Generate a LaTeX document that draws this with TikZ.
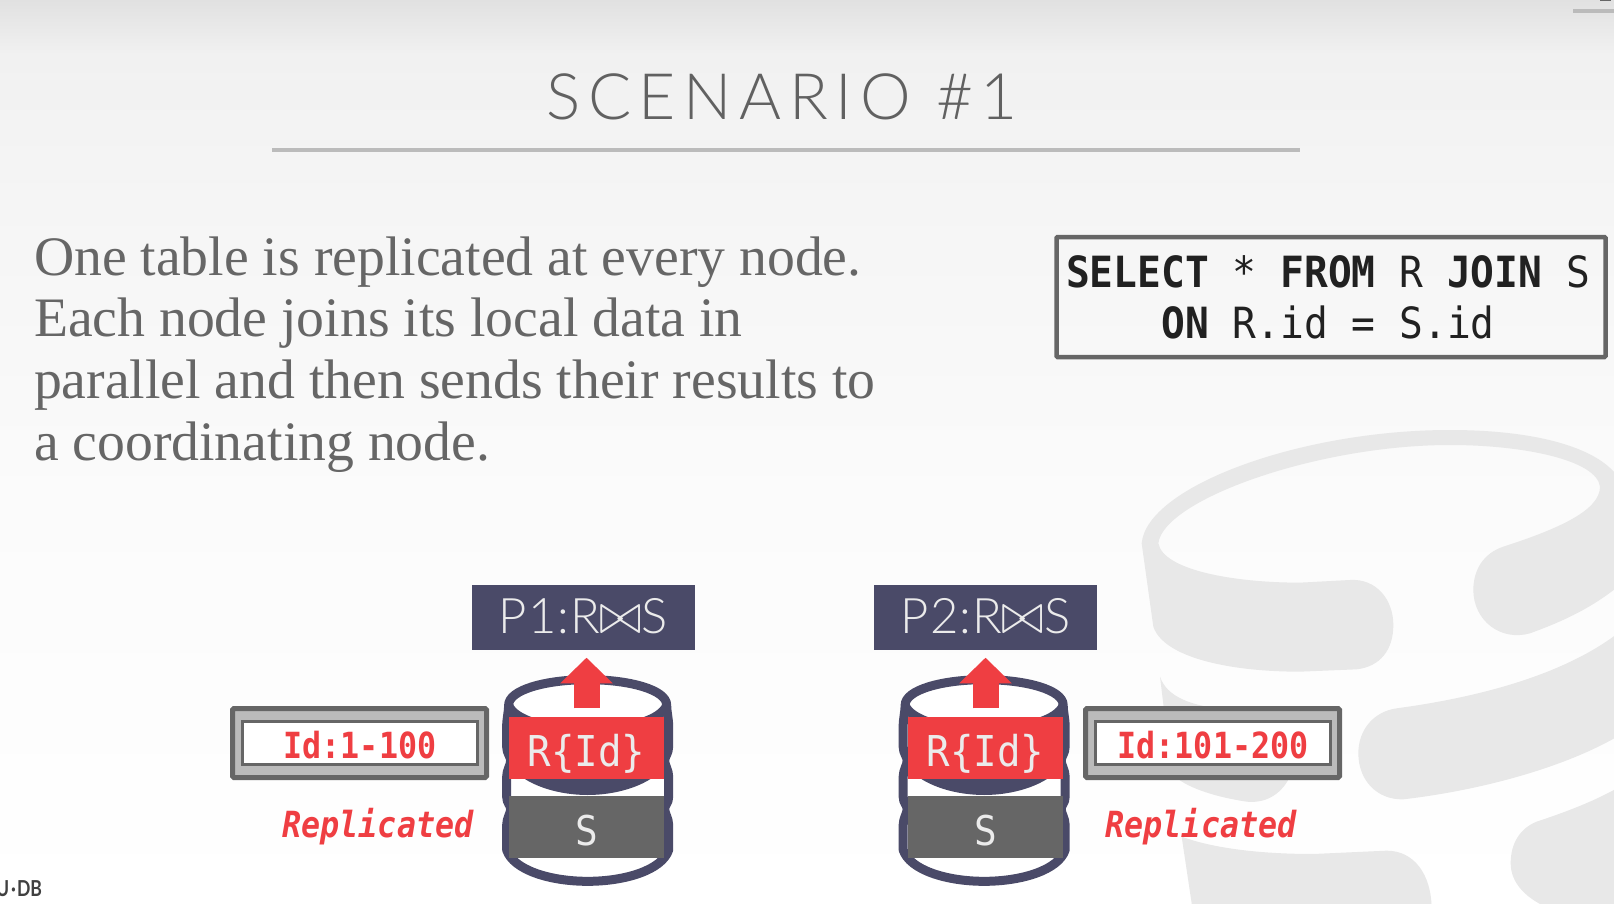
\documentclass[tikz,border=0pt]{standalone}
\usepackage{fontspec}
\usepackage{graphicx}
\usetikzlibrary{arrows.meta}
\setmainfont{Liberation Serif}
\newfontfamily\monof[FakeStretch=.88]{DejaVu Sans Mono}
\newfontfamily\monoq[FakeStretch=.92]{DejaVu Sans Mono}
\newfontfamily\lightf{Lato Light}
\newfontfamily\footf[FakeStretch=.8]{Lato}
\definecolor{navyc}{HTML}{4A4A68}
\definecolor{redc}{HTML}{EF3E42}
\definecolor{grayc}{HTML}{666666}
\definecolor{lightc}{HTML}{BBBBBB}
\definecolor{wmc}{HTML}{E8E8E8}
\definecolor{bga}{HTML}{FFFFFF}
\definecolor{bgb}{HTML}{FBFBFB}
\definecolor{bgc}{HTML}{F5F5F5}
\definecolor{bgd}{HTML}{F1F1F1}
\definecolor{bge}{HTML}{E1E1E1}
\pgfdeclareverticalshading{bgsh}{100bp}{color(0bp)=(bga); color(25bp)=(bga); color(47.3bp)=(bgb); color(63.9bp)=(bgc); color(72bp)=(bgd); color(75bp)=(bge); color(100bp)=(bge)}
\newcommand{\sized}[1]{\fontsize{#1}{#1}\selectfont}
\newcommand{\thinjoin}{\resizebox{42pt}{27pt}{$\bowtie$}}
\tikzset{
  flat/.style={inner sep=0pt,outer sep=0pt},
  procbox/.style={flat,fill=navyc,text=black!8,minimum width=223pt,text height=48pt,text depth=17pt,font=\lightf\sized{49}\addfontfeatures{LetterSpace=2}},
  redbox/.style={flat,fill=redc,text=black!8,minimum width=155pt,text height=49pt,text depth=13pt,font=\monoq\sized{42.5}},
  graybox/.style={flat,fill=grayc,text=black!8,minimum width=155pt,text height=49pt,text depth=13pt,font=\monoq\sized{41}},
  idouter/.style={flat,draw=grayc,fill=lightc,line width=5pt,rounded corners=1.5pt,minimum width=254pt,minimum height=69pt},
  idinner/.style={flat,draw=grayc,fill=white,line width=3pt,minimum width=235pt,text height=36.5pt,text depth=6.5pt,text=redc,font=\monof\bfseries\sized{36}},
  replabel/.style={flat,anchor=base,text=redc,font=\monof\bfseries\itshape\sized{36}},
  flowarrow/.style={draw=redc,line width=26pt,shorten <=8.7pt,shorten >=7.7pt,-{Triangle[length=25.6pt,width=51pt,fill=redc]}},
  wm/.style={fill=wmc,draw=none}
}
\newcommand{\dbstack}[1]{%
  \begin{scope}[shift={(#1,570)},scale=1/3]
    \path[fill=white,draw=navyc,line width=9pt,line join=round]
      (866,405) .. controls (866,425) and (860,445) .. (860,470) -- (860,530)
      .. controls (860,550) and (872,560) .. (872,572) .. controls (872,585) and (860,600) .. (860,620) -- (860,680)
      .. controls (860,700) and (872,705) .. (872,717) .. controls (872,730) and (860,745) .. (860,765) -- (860,840)
      .. controls (880,900) and (990,934) .. (1103,934) .. controls (1216,934) and (1326,900) .. (1346,840)
      -- (1346,765) .. controls (1346,745) and (1334,730) .. (1334,717) .. controls (1334,705) and (1346,700) .. (1346,680)
      -- (1346,620) .. controls (1346,600) and (1334,585) .. (1334,572) .. controls (1334,560) and (1346,550) .. (1346,530)
      -- (1346,470) .. controls (1346,445) and (1340,425) .. (1340,405)
      .. controls (1340,360) and (1230,329) .. (1103,329) .. controls (976,329) and (866,360) .. (866,405) -- cycle;
    \fill[navyc] (880,600) .. controls (930,650) and (1020,675) .. (1103,675) .. controls (1186,675) and (1276,650) .. (1326,600) -- cycle;
    \draw[navyc,line width=9pt] (866,405) .. controls (880,450) and (990,481) .. (1103,481) .. controls (1216,481) and (1326,450) .. (1340,405);
  \end{scope}}
\begin{document}
\begin{tikzpicture}[x=1pt,y=-1pt]
\useasboundingbox (0,0) rectangle (1614,904);
\clip (0,0) rectangle (1614,904);
\shade[shading=bgsh] (0,0) rectangle (1614,904);
% watermark
\begin{scope}[shift={(1100,400)},scale=1/3]
  \fill[wm] (125,430) .. controls (140,260) and (600,90) .. (1050,90) .. controls (1300,90) and (1500,140) .. (1560,240)
     -- (1560,555) .. controls (1480,620) and (1400,660) .. (1290,700) .. controls (1200,725) and (1120,660) .. (1120,570)
     .. controls (1120,510) and (1150,460) .. (1210,440) .. controls (1380,385) and (1500,330) .. (1500,260)
     .. controls (1490,180) and (1270,135) .. (1050,135) .. controls (650,135) and (190,300) .. (175,430)
     .. controls (190,510) and (400,548) .. (600,548) -- (750,540) .. controls (830,535) and (880,600) .. (880,675)
     .. controls (880,750) and (840,800) .. (770,808) -- (600,815) .. controls (380,815) and (190,770) .. (160,680) -- cycle;
  \fill[wm] (180,830) .. controls (200,890) and (270,910) .. (320,920) -- (600,1000) -- (570,1130)
     .. controls (540,1190) and (490,1210) .. (440,1205) .. controls (340,1190) and (250,1160) .. (215,1120) -- cycle;
  \fill[wm] (890,925) .. controls (1150,890) and (1400,820) .. (1560,695) -- (1560,1005)
     .. controls (1400,1100) and (1150,1170) .. (910,1198) .. controls (830,1200) and (775,1140) .. (775,1060)
     .. controls (775,990) and (820,935) .. (890,925) -- cycle;
  \fill[wm] (1310,1265) .. controls (1400,1235) and (1480,1205) .. (1560,1160) -- (1560,1530) -- (1360,1530)
     .. controls (1280,1500) and (1232,1450) .. (1232,1390) .. controls (1232,1330) and (1260,1285) .. (1310,1265) -- cycle;
  \fill[wm] (245,1310) .. controls (340,1345) and (480,1362) .. (640,1362) -- (860,1352)
     .. controls (940,1352) and (995,1420) .. (995,1530) -- (278,1530) -- cycle;
\end{scope}
% top-right tab
\fill[lightc] (1573,9) rectangle (1614,13);
\fill[grayc] (1600,0) rectangle (1611,1.2);
% title
\node[flat,anchor=base,text=black!62,font=\lightf\sized{64}\addfontfeatures{LetterSpace=12}] (title) at (782,120) {SCENARIO \#1};
\coordinate (ruleL) at (272,150);
\coordinate (ruleR) at (1300,150);
\draw[lightc,line width=3.5pt] (ruleL) -- (ruleR);
% body
\node[flat,anchor=north west,align=left,text=grayc,font=\fontsize{55.7}{61.8}\selectfont] (bodytext) at (34,236.5) {%
One table is replicated at every node.\\
Each node joins its local data in\\
parallel and then sends their results to\\
a coordinating node.};
% query
\node[flat,draw=grayc,line width=4.5pt,rounded corners=1pt,minimum width=549pt,minimum height=120pt,fill=none] (query) at (1331,297) {};
\node[flat,anchor=base,text=black!87,font=\monoq\sized{43}] (qa) at (1328,287) {\textbf{SELECT} * \textbf{FROM} R \textbf{JOIN} S};
\node[flat,anchor=base,text=black!87,font=\monoq\sized{43}] (qb) at (1328,338.5) {\textbf{ON} R.id = S.id};
% stacks
\dbstack{220}
\dbstack{616.5}
\node[redbox] (r1) at (586.5,748) {R\{Id\}};
\node[graybox] (s1) at (586.5,827) {S};
\node[redbox] (r2) at (985.5,748) {R\{Id\}};
\node[graybox] (s2) at (985.5,827) {S};
\node[procbox] (p1) at (583.5,617.5) {P1:R\thinjoin S};
\node[procbox] (p2) at (985.5,617.5) {P2:R\thinjoin S};
\draw[flowarrow] (r1.north) -- (r1.north |- p1.south);
\draw[flowarrow] (r2.north) -- (r2.north |- p2.south);
% id boxes
\node[idouter] (o1) at (359.5,743) {};
\node[idinner] (i1) at (360,743) {Id:1-100};
\node[idouter] (o2) at (1212.5,743) {};
\node[idinner] (i2) at (1213,743) {Id:101-200};
\node[replabel] (rep1) at (378,837.5) {Replicated};
\node[replabel] (rep2) at (1201,837.5) {Replicated};
% footer
\node[flat,anchor=base east,text=black!75,font=\footf\bfseries\sized{22}] (footer) at (42,896) {U\kern2pt·\kern1pt DB};
\end{tikzpicture}
\end{document}
